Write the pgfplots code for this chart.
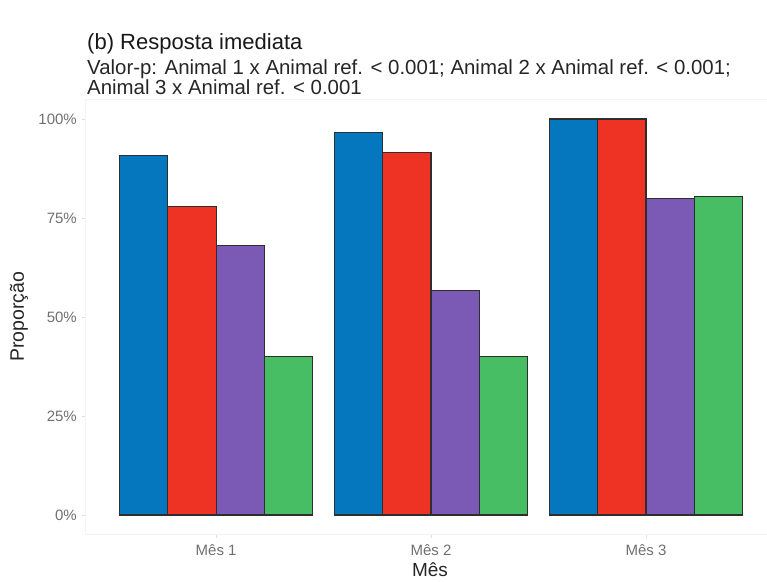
\documentclass[border=0pt]{standalone}
\usepackage{fontspec}
\setmainfont{Liberation Sans}
\usepackage{pgfplots}
\pgfplotsset{compat=1.18}

\definecolor{cblue}{HTML}{0477BE}
\definecolor{cred}{HTML}{EE3224}
\definecolor{cpurple}{HTML}{7A5AB4}
\definecolor{cgreen}{HTML}{48BE64}
\definecolor{edge}{HTML}{2E2E2E}
\definecolor{ticktext}{HTML}{707070}
\definecolor{paneledge}{HTML}{F4F4F4}

\begin{document}
\begin{tikzpicture}[x=1pt,y=1pt]
\useasboundingbox (0,0) rectangle (767,581);

% titles
\node[anchor=base west, inner sep=0, font=\fontsize{22}{26}\selectfont, text=black!90] at (87,531) {(b) Resposta imediata};
\node[anchor=base west, inner sep=0, font=\fontsize{20.4}{24}\selectfont, text=black!85] at (87,506) {Valor-p: Animal 1 x Animal ref. < 0.001; Animal 2 x Animal ref. < 0.001;};
\node[anchor=base west, inner sep=0, font=\fontsize{20.4}{24}\selectfont, text=black!85] at (87,486) {Animal 3 x Animal ref. < 0.001};

\begin{axis}[
  at={(85pt,46.2pt)}, anchor=south west,
  scale only axis, width=690pt, height=435.6pt,
  xmin=0.39, xmax=3.6, ymin=-5, ymax=105,
  axis line style={draw=paneledge, line width=0.8pt},
  tick pos=left, tick align=outside,
  major tick length=3pt,
  every tick/.style={draw=gray!25, line width=0.8pt},
  xtick={1,2,3}, xticklabels={Mês 1, Mês 2, Mês 3},
  ytick={0,25,50,75,100}, yticklabels={0\%,25\%,50\%,75\%,100\%},
  tick label style={font=\fontsize{15}{17}\selectfont, text=ticktext, inner sep=0pt},
  xticklabel style={anchor=base, yshift=-18pt},
  yticklabel style={anchor=east, xshift=-5pt},
  bar width=0.225,
  every axis plot/.append style={ybar, draw=edge, line width=1.2pt},
]
\addplot[fill=cblue,   bar shift=-0.3375] coordinates {(1,90.7) (2,96.6) (3,100)};
\addplot[fill=cred,    bar shift=-0.1125] coordinates {(1,78.0) (2,91.6) (3,100)};
\addplot[fill=cpurple, bar shift=0.1125]  coordinates {(1,68.0) (2,56.6) (3,80.0)};
\addplot[fill=cgreen,  bar shift=0.3375]  coordinates {(1,40.0) (2,40.0) (3,80.4)};
\end{axis}

% axis titles
\node[anchor=base, inner sep=0, font=\fontsize{19}{23}\selectfont, text=black!85] at (430,5) {Mês};
\node[anchor=center, inner sep=0, rotate=90, font=\fontsize{19.5}{23}\selectfont, text=black!85] at (19,264) {Proporção};
\end{tikzpicture}
\end{document}
